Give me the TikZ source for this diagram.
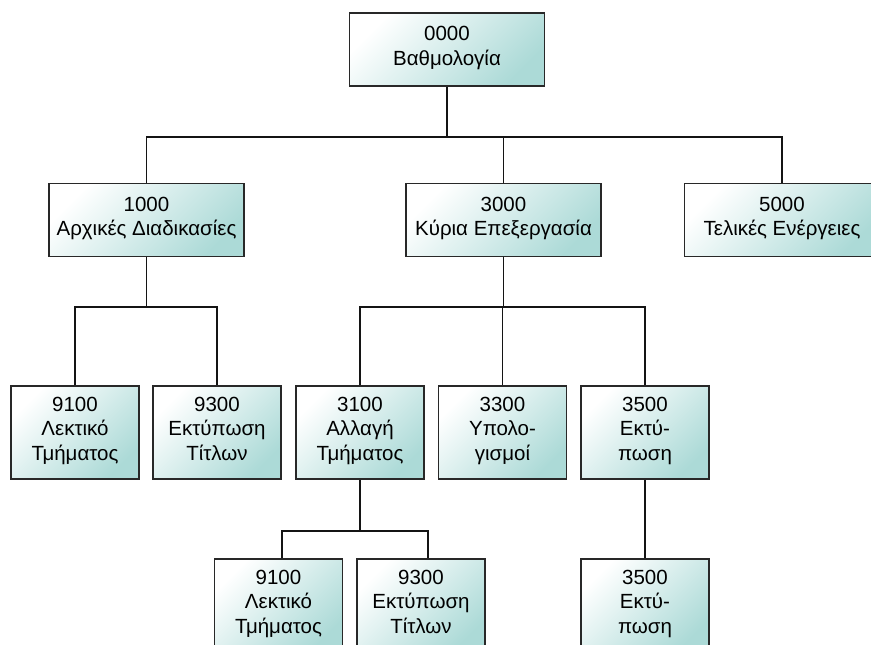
\documentclass[tikz,border=0pt]{standalone}
\usepackage{fontspec}
\setmainfont{Liberation Sans}
\usepackage{tikz}
\usetikzlibrary{positioning}
\definecolor{BoxEdge}{RGB}{40,40,40}
\definecolor{BoxTeal}{RGB}{172,218,215}
\definecolor{LinkDark}{RGB}{20,20,20}

\begin{document}
\begin{tikzpicture}[
  x=1pt, y=-1pt,
  font=\fontsize{20.5}{24.5}\selectfont,
  box/.style={
    draw=BoxEdge,
    line width=1.8pt,
    shading=axis,
    top color=white,
    bottom color=BoxTeal,
    shading angle=45,
    align=center,
    inner sep=2pt,
    minimum width=195pt,
    minimum height=73pt,
    execute at begin node={\rule{0pt}{22pt}},
    execute at end node=\strut,
  },
  leaf/.style={
    box,
    minimum width=128pt,
    minimum height=93pt,
  },
  lnk/.style={draw=LinkDark, line width=1.8pt},
]
  \clip (0,0) rectangle (871,645);

  % -------- top and first level --------
  \node[box] (n0000) at (447,49.5) {0000\\Βαθμολογία};
  \node[box] (n1000) at (146.5,220) {1000\\Αρχικές Διαδικασίες};
  \node[box] (n3000) at (503.5,220) {3000\\Κύρια Επεξεργασία};
  \node[box] (n5000) at (782,220) {5000\\Τελικές Ενέργειες};

  % -------- second level --------
  \node[leaf] (n9100a) at (75,432.5) {9100\\Λεκτικό\\Τμήματος};
  \node[leaf] (n9300a) at (217,432.5) {9300\\Εκτύπωση\\Τίτλων};
  \node[leaf] (n3100) at (360,432.5) {3100\\Αλλαγή\\Τμήματος};
  \node[leaf] (n3300) at (502.5,432.5) {3300\\Υπολο-\\γισμοί};
  \node[leaf] (n3500) at (645,432.5) {3500\\Εκτύ-\\πωση};

  % -------- third level (cut by the page edge) --------
  \node[leaf] (n9100b) at (278.5,605.5) {9100\\Λεκτικό\\Τμήματος};
  \node[leaf] (n9300b) at (421,605.5) {9300\\Εκτύπωση\\Τίτλων};
  \node[leaf] (n3500b) at (645,605.5) {3500\\Εκτύ-\\πωση};

  % bus heights and off-centre drops
  \coordinate (busA) at (0,137);
  \coordinate (busB) at (0,307);
  \coordinate (busC) at (0,531);
  \coordinate (d9100b) at ([xshift=3.5pt]n9100b.north);
  \coordinate (d9300b) at ([xshift=7pt]n9300b.north);

  % -------- connectors --------
  \draw[lnk] (n0000.south) -- (n0000.south |- busA);
  \draw[lnk] (n1000.north) |- (busA -| n5000.north) -- (n5000.north);
  \draw[lnk] (n3000.north) -- (n3000.north |- busA);

  \draw[lnk] (n1000.south) -- (n1000.south |- busB);
  \draw[lnk] (n9100a.north) |- (busB -| n9300a.north) -- (n9300a.north);

  \draw[lnk] (n3000.south) -- (n3000.south |- busB);
  \draw[lnk] (n3100.north) |- (busB -| n3500.north) -- (n3500.north);
  \draw[lnk] (n3300.north) -- (n3300.north |- busB);

  \draw[lnk] (n3100.south) -- (n3100.south |- busC);
  \draw[lnk] (d9100b) |- (busC -| d9300b) -- (d9300b);
  \draw[lnk] (n3500.south) -- (n3500b.north);
\end{tikzpicture}
\end{document}
